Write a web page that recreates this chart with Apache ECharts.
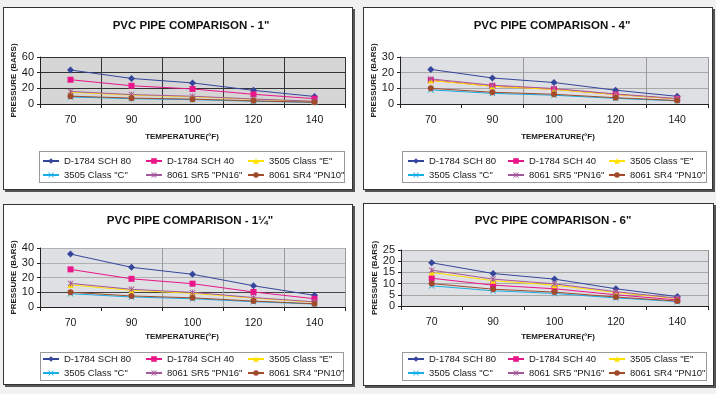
<!DOCTYPE html>
<html><head><meta charset="utf-8">
<script src="https://cdn.jsdelivr.net/npm/echarts@6/dist/echarts.min.js"></script>
<style>
html,body{margin:0;padding:0;width:716px;height:394px;overflow:hidden;background:#f1f1f1;font-family:"Liberation Sans",Arial,sans-serif;}
.panel{position:absolute;background:#fff;border:1px solid #333;box-shadow:2px 2px 0 #555;box-sizing:border-box;}
.lg{position:absolute;border:1px solid #9a9a9a;box-sizing:border-box;}
#chart{position:absolute;left:0;top:0;width:716px;height:394px;}
</style></head><body>
<div class="panel" style="left:3px;top:7px;width:350px;height:183px"></div>
<div class="panel" style="left:363px;top:7px;width:350px;height:183px"></div>
<div class="panel" style="left:3px;top:204px;width:350px;height:181px"></div>
<div class="panel" style="left:363px;top:203px;width:351px;height:183px"></div>
<div class="lg" style="left:39px;top:151px;width:306px;height:32px"></div>
<div class="lg" style="left:402px;top:151px;width:305px;height:32px"></div>
<div class="lg" style="left:40px;top:352px;width:304px;height:29px"></div>
<div class="lg" style="left:402px;top:352px;width:305px;height:29px"></div>
<div id="chart"></div>
<script>
// ---- data ----
const temperatures = ['70', '90', '100', '120', '140'];
const seriesNames = ['D-1784 SCH 80', 'D-1784 SCH 40', '3505 Class "E"', '3505 Class "C"', '8061 SR5 "PN16"', '8061 SR4 "PN10"'];
const chartTitles = ['PVC PIPE COMPARISON - 1"', 'PVC PIPE COMPARISON - 4"', 'PVC PIPE COMPARISON - 1\u00BC"', 'PVC PIPE COMPARISON - 6"'];
const yTitle = 'PRESSURE (BARS)';
const xTitle = 'TEMPERATURE(\u00B0F)';

const sch80_1in  = [43.4, 32.6, 26.9, 17.4, 9.6];
const sch40_1in  = [31.0, 23.3, 19.2, 12.4, 6.8];
const sch80_4in  = [22.1, 16.6, 13.7, 8.8, 4.9];
const sch40_4in  = [15.2, 11.4, 9.4, 6.1, 3.3];
const sch80_114in = [35.9, 26.9, 22.2, 14.4, 7.9];
const sch40_114in = [25.5, 19.1, 15.8, 10.2, 5.6];
const sch80_6in  = [19.3, 14.5, 12.0, 7.7, 4.2];
const sch40_6in  = [12.4, 9.3, 7.7, 5.0, 2.7];
const classE = [15.0, 11.3, 9.3, 6.0, 3.3];
const classC = [9.0, 6.8, 5.6, 3.6, 2.0];
const pn16   = [16.0, 12.0, 9.9, 6.4, 3.5];
const pn10   = [10.0, 7.5, 6.2, 4.0, 2.2];

const yMaxes = [60, 30, 40, 25];
const yIntervals = [20, 10, 10, 5];

const chartData = [
  [sch80_1in, sch40_1in, classE, classC, pn16, pn10],
  [sch80_4in, sch40_4in, classE, classC, pn16, pn10],
  [sch80_114in, sch40_114in, classE, classC, pn16, pn10],
  [sch80_6in, sch40_6in, classE, classC, pn16, pn10]
];

// ---- styling / layout ----
const FONT = '"Liberation Sans", Arial, sans-serif';
const X_PATH = 'path://M0,1L1,0L5,4L9,0L10,1L6,5L10,9L9,10L5,6L1,10L0,9L4,5Z';
const STAR_PATH = 'path://M0,1L1,0L5,4L9,0L10,1L6,5L10,9L9,10L5,6L1,10L0,9L4,5ZM4.4,0L5.6,0L5.6,10L4.4,10Z';
const styles = [
  {color: '#34469c', symbol: 'diamond', size: 7},
  {color: '#e9168a', symbol: 'rect', size: 6},
  {color: '#ffe100', symbol: 'triangle', size: 6},
  {color: '#17aee6', symbol: X_PATH, size: 6},
  {color: '#a4589c', symbol: STAR_PATH, size: 6},
  {color: '#a24a2c', symbol: 'circle', size: 6}
];

const panels = [
  {plot: {l: 40, t: 57, w: 305, h: 47}, title: [191, 26], xt: [182, 137], rowY: 161, cols: [42, 145, 247], vlines: [1, 2, 3, 4],
   bg: '#d6d6d6', vColor: '#333', hColor: '#333'},
  {plot: {l: 400, t: 57, w: 308, h: 47}, title: [552, 26], xt: [558, 137], rowY: 161, cols: [407, 507, 608], vlines: [2, 4],
   bg: '#dfe0e3', vColor: '#9a9a9a', hColor: '#a8a8a8'},
  {plot: {l: 40, t: 248, w: 305, h: 59}, title: [190, 221], xt: [182, 337], rowY: 359, cols: [42, 145, 247], vlines: [2, 3, 4],
   bg: '#dfe0e3', vColor: '#9a9a9a', hColor: ['#a8a8a8', '#444', '#b0b0b0', '#b0b0b0', '#b0b0b0']},
  {plot: {l: 401, t: 250, w: 307, h: 56}, title: [553, 221], xt: [558, 337], rowY: 359, cols: [407, 507, 608], vlines: [3],
   bg: '#dfe0e3', vColor: '#8a8a8a', hColor: '#a8a8a8'}
];

const grids = [], xAxes = [], yAxes = [], series = [], legends = [], graphics = [];
panels.forEach((p, i) => {
  grids.push({left: p.plot.l, top: p.plot.t, width: p.plot.w, height: p.plot.h,
    show: true, backgroundColor: p.bg, borderWidth: 0, containLabel: false});
  xAxes.push({type: 'category', gridIndex: i, data: temperatures, boundaryGap: true,
    axisLine: {show: true, lineStyle: {color: '#222', width: 1}},
    axisTick: {show: true, length: 4, lineStyle: {color: '#222'}},
    axisLabel: {margin: 11, fontSize: 10.5, color: '#1a1a1a', fontFamily: FONT},
    splitLine: {show: true, interval: (idx) => p.vlines.indexOf(idx) >= 0, lineStyle: {color: p.vColor, width: 1}}});
  yAxes.push({type: 'value', gridIndex: i, min: 0, max: yMaxes[i], interval: yIntervals[i],
    name: yTitle, nameLocation: 'middle', nameGap: 21, nameRotate: 90,
    nameTextStyle: {fontSize: 8, fontWeight: 'bold', color: '#1a1a1a', fontFamily: FONT},
    axisLine: {show: true, lineStyle: {color: '#222', width: 1}},
    axisTick: {show: true, length: 3, lineStyle: {color: '#222'}},
    axisLabel: {margin: 6, fontSize: 11, color: '#1a1a1a', fontFamily: FONT},
    splitLine: {show: true, lineStyle: {color: p.hColor, width: 1}}});
  chartData[i].forEach((vals, k) => {
    const s = styles[k];
    series.push({type: 'line', name: seriesNames[k], xAxisIndex: i, yAxisIndex: i, data: vals,
      symbol: s.symbol, symbolSize: s.size, showSymbol: true,
      lineStyle: {color: s.color, width: 1}, itemStyle: {color: s.color}});
  });
  for (let c = 0; c < 3; c++) {
    legends.push({orient: 'vertical', left: p.cols[c], top: p.rowY - 5.5, padding: 0,
      itemWidth: 16, itemHeight: 7, itemGap: 3, selectedMode: false,
      data: [seriesNames[c], seriesNames[c + 3]],
      textStyle: {fontSize: 9.5, lineHeight: 11, color: '#1a1a1a', fontFamily: FONT}});
  }
  graphics.push({type: 'text', x: p.title[0], y: p.title[1],
    style: {text: chartTitles[i], fontSize: 11.5, fontWeight: 'bold', fontFamily: FONT, fill: '#111',
      textAlign: 'center', textVerticalAlign: 'middle'}});
  graphics.push({type: 'text', x: p.xt[0], y: p.xt[1],
    style: {text: xTitle, fontSize: 8, fontWeight: 'bold', fontFamily: FONT, fill: '#1a1a1a',
      textAlign: 'center', textVerticalAlign: 'middle'}});
});

const chart = echarts.init(document.getElementById('chart'), null, {renderer: 'canvas'});
chart.setOption({
  animation: false,
  backgroundColor: 'transparent',
  grid: grids, xAxis: xAxes, yAxis: yAxes, series: series, legend: legends,
  graphic: graphics
});
</script>
</body></html>
